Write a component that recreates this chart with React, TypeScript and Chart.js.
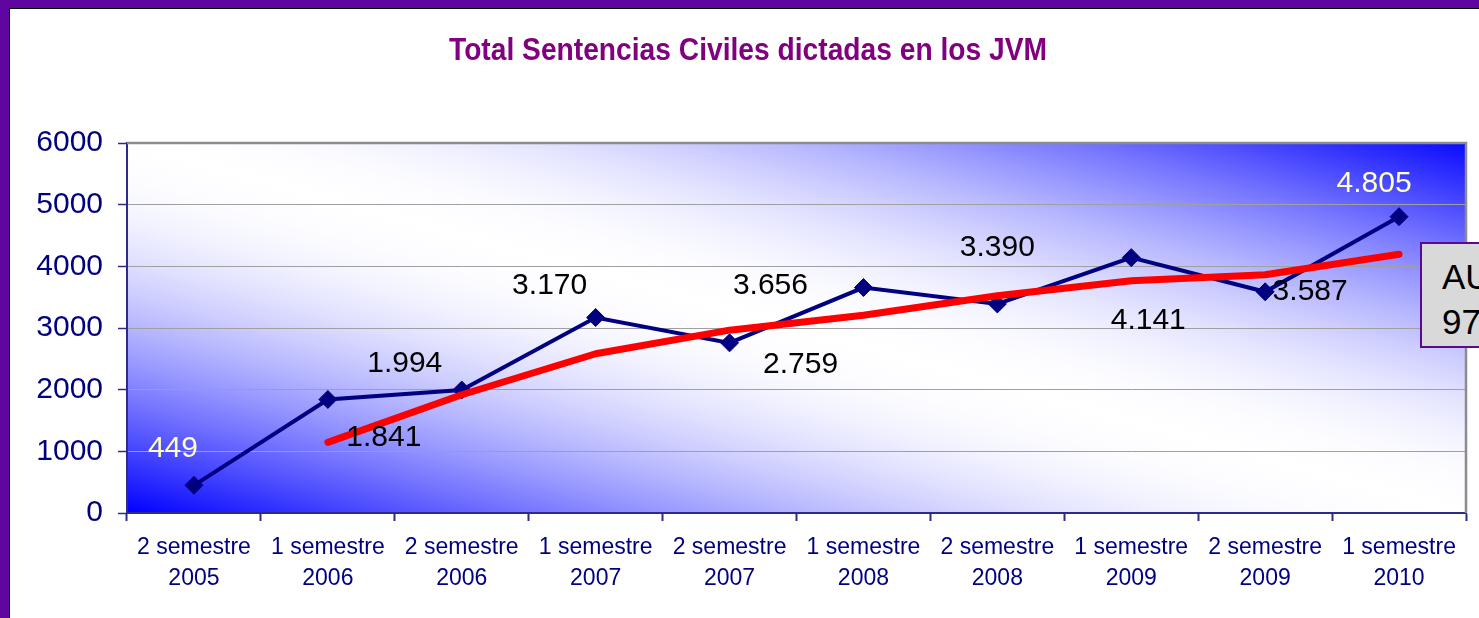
import React, { useEffect, useRef } from 'react';
import { Chart, registerables } from 'chart.js';

Chart.register(...registerables);

const CATEGORIES: string[][] = [
  ['2 semestre', '2005'],
  ['1 semestre', '2006'],
  ['2 semestre', '2006'],
  ['1 semestre', '2007'],
  ['2 semestre', '2007'],
  ['1 semestre', '2008'],
  ['2 semestre', '2008'],
  ['1 semestre', '2009'],
  ['2 semestre', '2009'],
  ['1 semestre', '2010'],
];

const SENTENCIAS: number[] = [449, 1841, 1994, 3170, 2759, 3656, 3390, 4141, 3587, 4805];

// Tendencia (media móvil de 2 períodos)
const TENDENCIA: (number | null)[] = [null, 1145, 1918, 2582, 2965, 3208, 3523, 3766, 3864, 4196];

const POINT_LABELS: string[] = ['449', '1.841', '1.994', '3.170', '2.759', '3.656', '3.390', '4.141', '3.587', '4.805'];

const Y_MIN = 0;
const Y_MAX = 6000;
const Y_STEP = 1000;

const TITLE = 'Total Sentencias Civiles dictadas en los JVM';
const CALLOUT_LINES = ['AUMENTO', '970%'];

// styling (label offsets in px relative to each point)
const LABEL_OFFSETS: number[][] = [
  [-21, -37], [56, 38], [-57, -26], [-46, -32], [71, 22],
  [-93, -2], [0, -56], [17, 63], [45, 0], [-25, -33],
];
const LABEL_COLORS: string[] = ['#ffffc0', '#000', '#000', '#000', '#000', '#000', '#000', '#000', '#000', '#ffffc0'];

const NAVY = '#000080';
const AXIS = '#2b2b8c';
const FONT = '"Liberation Sans", Arial, sans-serif';

const bgPlugin = {
  id: 'plotBg',
  beforeDraw(chart: any) {
    const { ctx, chartArea: a } = chart;
    const cx = (a.left + a.right) / 2;
    const cy = (a.top + a.bottom) / 2;
    const w = a.right - a.left;
    const h = a.bottom - a.top;
    let dx = h, dy = -w;
    const len = Math.hypot(dx, dy);
    dx /= len; dy /= len;
    const ext = Math.abs((-w / 2) * dx + (h / 2) * dy);
    const g = ctx.createLinearGradient(cx - ext * dx, cy - ext * dy, cx + ext * dx, cy + ext * dy);
    // blue -> white -> blue with a smooth (sine) profile
    const steps = 20;
    for (let k = 0; k <= steps; k++) {
      const t = k / steps;
      const wv = Math.sin(Math.PI * t);
      const base = t > 0.5 ? 10 * (2 * t - 1) : 0;
      const c = Math.round(base + (255 - base) * wv);
      g.addColorStop(t, `rgb(${c},${c},255)`);
    }
    ctx.save();
    ctx.fillStyle = g;
    ctx.fillRect(a.left, a.top, w, h);
    ctx.restore();
  },
  afterDraw(chart: any) {
    const { ctx, chartArea: a } = chart;
    ctx.save();
    ctx.strokeStyle = '#8c8c8c';
    ctx.lineWidth = 2.5;
    ctx.beginPath();
    ctx.moveTo(a.left, a.top);
    ctx.lineTo(a.right, a.top);
    ctx.lineTo(a.right, a.bottom);
    ctx.stroke();
    // title (condensed, like Arial Narrow)
    ctx.font = `bold 32px ${FONT}`;
    ctx.fillStyle = '#800080';
    ctx.textAlign = 'center';
    ctx.textBaseline = 'middle';
    const tw = ctx.measureText(TITLE).width;
    const sx = 598 / tw;
    ctx.translate(748, 51);
    ctx.scale(sx, 1);
    ctx.fillText(TITLE, 0, 0);
    ctx.restore();
  },
};

const labelPlugin = {
  id: 'pointLabels',
  afterDatasetsDraw(chart: any) {
    const { ctx } = chart;
    const meta = chart.getDatasetMeta(0);
    ctx.save();
    ctx.font = `30px ${FONT}`;
    ctx.textAlign = 'center';
    ctx.textBaseline = 'middle';
    meta.data.forEach((el: any, i: number) => {
      const [ox, oy] = LABEL_OFFSETS[i];
      ctx.fillStyle = LABEL_COLORS[i];
      ctx.fillText(POINT_LABELS[i], el.x + ox, el.y + oy);
    });
    ctx.restore();
  },
};

export default function App() {
  const ref = useRef<HTMLCanvasElement | null>(null);

  useEffect(() => {
    if (!ref.current) return;
    const chart = new Chart(ref.current, {
      type: 'line',
      data: {
        labels: CATEGORIES,
        datasets: [
          {
            label: 'Sentencias',
            data: SENTENCIAS,
            borderColor: NAVY,
            backgroundColor: NAVY,
            borderWidth: 4,
            pointStyle: 'rectRot',
            pointRadius: 9,
            pointBackgroundColor: NAVY,
            pointBorderColor: NAVY,
            pointBorderWidth: 1,
            tension: 0,
            order: 1,
          },
          {
            label: 'Tendencia',
            data: TENDENCIA,
            borderColor: '#ff0000',
            borderWidth: 7,
            borderCapStyle: 'round',
            borderJoinStyle: 'round',
            pointRadius: 0,
            tension: 0,
            order: 0,
          },
        ],
      },
      options: {
        responsive: false,
        animation: false,
        layout: { padding: { left: 26, right: 13, top: 143, bottom: 0 } },
        plugins: {
          legend: { display: false },
          tooltip: { enabled: false },
          title: { display: false },
        },
        scales: {
          x: {
            type: 'category',
            offset: true,
            grid: { offset: true, drawOnChartArea: false, drawTicks: true, tickLength: 8, tickColor: AXIS, tickWidth: 2 },
            border: { display: true, color: AXIS, width: 2 },
            ticks: {
              color: NAVY,
              font: { family: FONT, size: 23, lineHeight: 1.35 },
              padding: 11,
              maxRotation: 0,
              autoSkip: false,
            },
            afterFit: (s: any) => { s.height = 105; },
          },
          y: {
            min: Y_MIN,
            max: Y_MAX,
            ticks: {
              stepSize: Y_STEP,
              color: NAVY,
              font: { family: FONT, size: 30 },
              padding: 15,
              callback: (v: any) => String(v),
            },
            grid: { color: '#a0a0a0', lineWidth: 1, tickLength: 9, tickColor: AXIS, tickWidth: 1.5 },
            border: { display: true, color: AXIS, width: 2 },
            afterFit: (s: any) => { s.width = 101; },
          },
        },
      },
      plugins: [bgPlugin, labelPlugin],
    } as any);
    return () => chart.destroy();
  }, []);

  return (
    <div style={{ position: 'fixed', left: 0, top: 0, width: 1479, height: 618, overflow: 'hidden', background: '#5f06a0' }}>
      <div
        style={{
          position: 'absolute', left: 9, top: 8, width: 1500, height: 640,
          background: '#ffffff', borderLeft: '1px solid #000', borderTop: '1px solid #000',
        }}
      />
      <canvas ref={ref} width={1479} height={618} style={{ position: 'absolute', left: 0, top: 0, width: 1479, height: 618 }} />
      <div
        style={{
          position: 'absolute', left: 1420, top: 242, width: 260, height: 106,
          background: '#d9d9d9', border: '2px solid #5a0a90',
          fontFamily: FONT, fontSize: 35, lineHeight: '45px', color: '#000',
          paddingLeft: 20, paddingTop: 10, boxSizing: 'border-box', whiteSpace: 'nowrap',
        }}
      >
        {CALLOUT_LINES.map((l, i) => <div key={i}>{l}</div>)}
      </div>
    </div>
  );
}
